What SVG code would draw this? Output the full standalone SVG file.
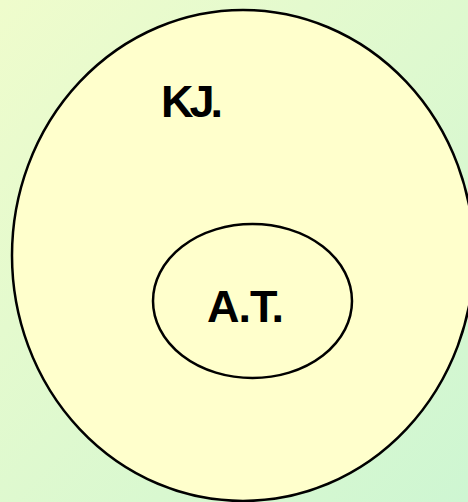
<svg xmlns="http://www.w3.org/2000/svg" width="468" height="502" viewBox="0 0 468 502">
<defs>
<linearGradient id="bg" x1="0" y1="0" x2="1" y2="1">
<stop offset="0" stop-color="#effccc"/>
<stop offset="1" stop-color="#cef6d2"/>
</linearGradient>
</defs>
<style>
.set{fill:#ffffcc;stroke:#000;stroke-width:2.5}
.lbl{font-family:"Liberation Sans",Arial,sans-serif;font-weight:bold;font-size:45px;fill:#000;letter-spacing:-4px}
</style>
<rect x="0" y="0" width="468" height="502" fill="url(#bg)"/>
<g id="KJ">
<ellipse class="set" cx="243" cy="255.5" rx="231" ry="245.5"/>
<text class="lbl" x="161" y="117">KJ.</text>
</g>
<g id="AT">
<ellipse class="set" cx="252.5" cy="301" rx="99.5" ry="77"/>
<text class="lbl" x="207" y="322" style="letter-spacing:-1px">A.T.</text>
</g>
<g id="connectors"/>
</svg>
